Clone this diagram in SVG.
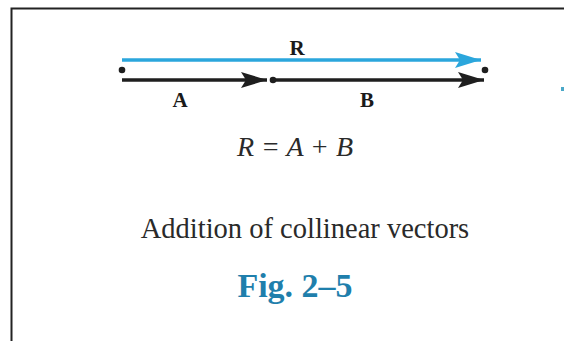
<svg xmlns="http://www.w3.org/2000/svg" width="564" height="341" viewBox="0 0 564 341">
<style>
.lbl{font-family:"Liberation Serif","Times New Roman",serif;font-weight:bold;font-size:21px;fill:#1a1a1a;text-anchor:middle}
.eq{font-family:"Liberation Serif","Times New Roman",serif;font-style:italic;font-size:28px;fill:#2a2a2a}
.cap{font-family:"Liberation Serif","Times New Roman",serif;font-size:28.5px;fill:#2a2a2a;text-anchor:middle}
.fig{font-family:"Liberation Serif","Times New Roman",serif;font-weight:bold;font-size:34px;fill:#1f7fac;text-anchor:middle}
.blk{stroke:#1e1e1e;stroke-width:3.5;fill:none}
.blu{stroke:#2ba6dc;stroke-width:3.5;fill:none}
</style>
<defs>
<marker id="ab" viewBox="0 0 26 16" refX="26" refY="8" markerUnits="userSpaceOnUse" markerWidth="26" markerHeight="16" orient="auto"><path d="M0,0 L26,8 L0,16 L5,8 Z" fill="#1e1e1e"/></marker>
<marker id="au" viewBox="0 0 26 16" refX="26" refY="8" markerUnits="userSpaceOnUse" markerWidth="26" markerHeight="16" orient="auto"><path d="M0,0 L26,8 L0,16 L5,8 Z" fill="#2ba6dc"/></marker>
</defs>
<rect width="564" height="341" fill="#ffffff"/>
<path d="M11.5,341 V8.5 H564" stroke="#222" stroke-width="2" fill="none"/>
<g id="connectors">
<line class="blu" x1="122" y1="60" x2="481" y2="60" marker-end="url(#au)"/>
<line class="blk" x1="122" y1="80" x2="267" y2="80" marker-end="url(#ab)"/>
<line class="blk" x1="273" y1="80" x2="484" y2="80" marker-end="url(#ab)"/>
</g>
<g id="points">
<circle cx="122" cy="70" r="3.3" fill="#1e1e1e"/>
<circle cx="273" cy="80" r="3.3" fill="#1e1e1e"/>
<circle cx="485" cy="70" r="3.3" fill="#1e1e1e"/>
</g>
<g id="labels">
<text class="lbl" x="297" y="55">R</text>
<text class="lbl" x="180" y="107">A</text>
<text class="lbl" x="367" y="107">B</text>
</g>
<text class="eq" x="237" y="156">R = A + B</text>
<text class="cap" x="305" y="238">Addition of collinear vectors</text>
<text class="fig" x="295" y="297">Fig. 2–5</text>
<rect x="561" y="87" width="3" height="4" fill="#4aa8c8"/>
</svg>
